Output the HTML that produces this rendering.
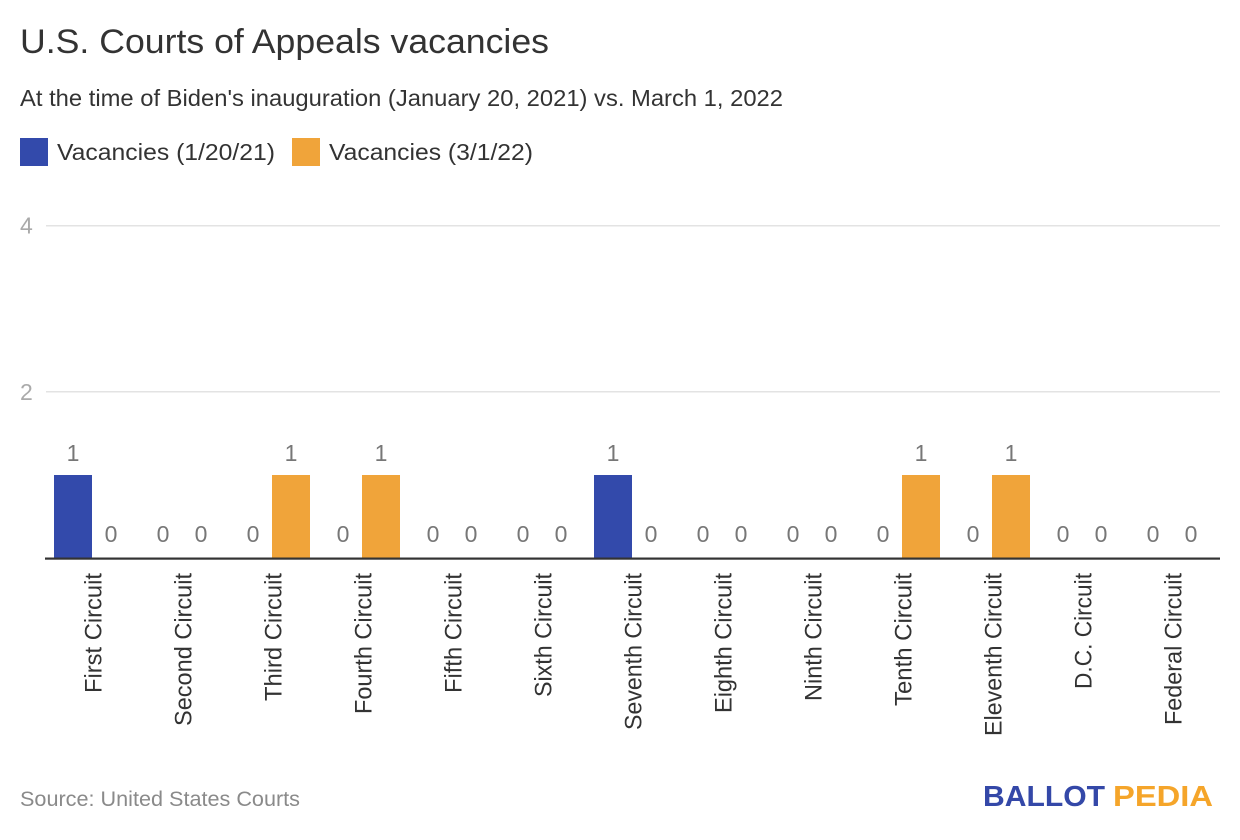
<!DOCTYPE html>
<html>
<head>
<meta charset="utf-8">
<style>
html,body{margin:0;padding:0;background:#fff;}
svg{display:block;}
text{font-family:"Liberation Sans",Arial,sans-serif;}
</style>
</head>
<body>
<svg width="1240" height="840" viewBox="0 0 1240 840" xmlns="http://www.w3.org/2000/svg">
  <rect width="1240" height="840" fill="#fff"/>
  <!-- Title -->
  <text x="20" y="53" font-size="34" fill="#333" textLength="529" lengthAdjust="spacingAndGlyphs">U.S. Courts of Appeals vacancies</text>
  <text x="20" y="106" font-size="23" fill="#333" textLength="763" lengthAdjust="spacingAndGlyphs">At the time of Biden's inauguration (January 20, 2021) vs. March 1, 2022</text>
  <!-- Legend -->
  <rect x="20" y="138" width="28" height="28" fill="#334aab"/>
  <text x="57" y="160" font-size="23" fill="#333" textLength="218" lengthAdjust="spacingAndGlyphs">Vacancies (1/20/21)</text>
  <rect x="292" y="138" width="28" height="28" fill="#f0a43a"/>
  <text x="329" y="160" font-size="23" fill="#333" textLength="204" lengthAdjust="spacingAndGlyphs">Vacancies (3/1/22)</text>

  <!-- Gridlines -->
  <rect x="46" y="225" width="1174" height="1.5" fill="#e3e3e3"/>
  <rect x="46" y="391" width="1174" height="1.5" fill="#e3e3e3"/>
  <text x="20" y="233.5" font-size="23" fill="#aaa">4</text>
  <text x="20" y="400" font-size="23" fill="#aaa">2</text>

  <!-- Bars -->
  <g>
    <rect x="54" y="475" width="38" height="84" fill="#334aab"/>
    <rect x="272" y="475" width="38" height="84" fill="#f0a43a"/>
    <rect x="362" y="475" width="38" height="84" fill="#f0a43a"/>
    <rect x="594" y="475" width="38" height="84" fill="#334aab"/>
    <rect x="902" y="475" width="38" height="84" fill="#f0a43a"/>
    <rect x="992" y="475" width="38" height="84" fill="#f0a43a"/>
  </g>

  <!-- Baseline -->
  <rect x="45" y="557.5" width="1175" height="2.2" fill="#333"/>

  <!-- Value labels -->
  <g font-size="23" fill="#777" text-anchor="middle">
    <text x="73" y="461">1</text><text x="111" y="542">0</text>
    <text x="163" y="542">0</text><text x="201" y="542">0</text>
    <text x="253" y="542">0</text><text x="291" y="461">1</text>
    <text x="343" y="542">0</text><text x="381" y="461">1</text>
    <text x="433" y="542">0</text><text x="471" y="542">0</text>
    <text x="523" y="542">0</text><text x="561" y="542">0</text>
    <text x="613" y="461">1</text><text x="651" y="542">0</text>
    <text x="703" y="542">0</text><text x="741" y="542">0</text>
    <text x="793" y="542">0</text><text x="831" y="542">0</text>
    <text x="883" y="542">0</text><text x="921" y="461">1</text>
    <text x="973" y="542">0</text><text x="1011" y="461">1</text>
    <text x="1063" y="542">0</text><text x="1101" y="542">0</text>
    <text x="1153" y="542">0</text><text x="1191" y="542">0</text>
  </g>

  <!-- Category labels -->
  <g font-size="24" fill="#333" text-anchor="end">
    <text transform="translate(101.5,573) rotate(-90)" textLength="120" lengthAdjust="spacingAndGlyphs">First Circuit</text>
    <text transform="translate(191.5,573) rotate(-90)" textLength="153" lengthAdjust="spacingAndGlyphs">Second Circuit</text>
    <text transform="translate(281.5,573) rotate(-90)" textLength="128" lengthAdjust="spacingAndGlyphs">Third Circuit</text>
    <text transform="translate(371.5,573) rotate(-90)" textLength="141" lengthAdjust="spacingAndGlyphs">Fourth Circuit</text>
    <text transform="translate(461.5,573) rotate(-90)" textLength="120" lengthAdjust="spacingAndGlyphs">Fifth Circuit</text>
    <text transform="translate(551.5,573) rotate(-90)" textLength="124" lengthAdjust="spacingAndGlyphs">Sixth Circuit</text>
    <text transform="translate(641.5,573) rotate(-90)" textLength="157" lengthAdjust="spacingAndGlyphs">Seventh Circuit</text>
    <text transform="translate(731.5,573) rotate(-90)" textLength="140" lengthAdjust="spacingAndGlyphs">Eighth Circuit</text>
    <text transform="translate(821.5,573) rotate(-90)" textLength="128" lengthAdjust="spacingAndGlyphs">Ninth Circuit</text>
    <text transform="translate(911.5,573) rotate(-90)" textLength="133" lengthAdjust="spacingAndGlyphs">Tenth Circuit</text>
    <text transform="translate(1001.5,573) rotate(-90)" textLength="163" lengthAdjust="spacingAndGlyphs">Eleventh Circuit</text>
    <text transform="translate(1091.5,573) rotate(-90)" textLength="116" lengthAdjust="spacingAndGlyphs">D.C. Circuit</text>
    <text transform="translate(1181.5,573) rotate(-90)" textLength="152" lengthAdjust="spacingAndGlyphs">Federal Circuit</text>
  </g>

  <!-- Footer -->
  <text x="20" y="806" font-size="21" fill="#8a8a8a" textLength="280" lengthAdjust="spacingAndGlyphs">Source: United States Courts</text>
  <text x="983" y="806" font-size="29" font-weight="bold" fill="#3448a8" textLength="122" lengthAdjust="spacingAndGlyphs">BALLOT</text>
  <text x="1113" y="806" font-size="29" font-weight="bold" fill="#f5a52a" textLength="100" lengthAdjust="spacingAndGlyphs">PEDIA</text>
</svg>
</body>
</html>
